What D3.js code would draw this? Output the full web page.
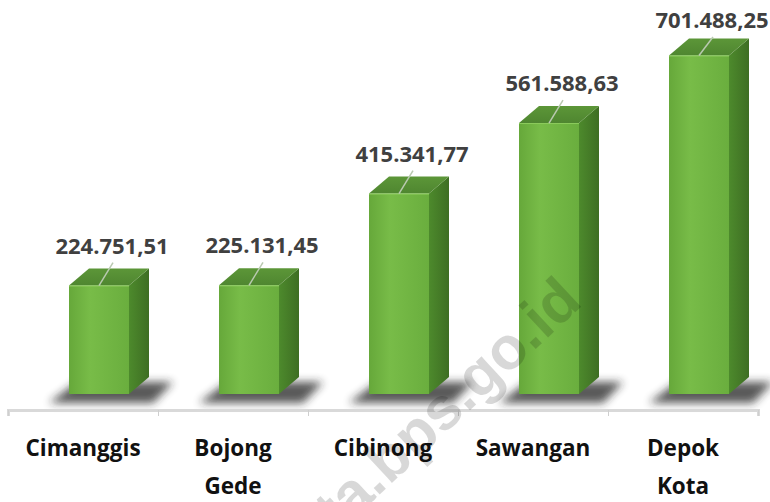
<!DOCTYPE html>
<html>
<head>
<meta charset="utf-8">
<script src="https://cdn.jsdelivr.net/npm/d3@7"></script>
<style>
  body { margin: 0; background: #fff; }
  svg { display: block; }
</style>
</head>
<body>
<div class="chart"></div>
<script>
// data
var categories = ["Cimanggis", "Bojong Gede", "Cibinong", "Sawangan", "Depok Kota"];
var labelLines = [["Cimanggis"], ["Bojong", "Gede"], ["Cibinong"], ["Sawangan"], ["Depok", "Kota"]];
var values = [224751.51, 225131.45, 415341.77, 561588.63, 701488.25];
var valueLabels = ["224.751,51", "225.131,45", "415.341,77", "561.588,63", "701.488,25"];

var svgWidth = 770;
var svgHeight = 502;

var svg = d3.select(".chart")
  .append("svg")
  .attr("width", svgWidth)
  .attr("height", svgHeight);

var defs = svg.append("defs");

// gradients for the 3d faces
function gradient(id, stops, vertical) {
  var g = defs.append("linearGradient").attr("id", id)
    .attr("x1", 0).attr("y1", 0)
    .attr("x2", vertical ? 0 : 1).attr("y2", vertical ? 1 : 0);
  stops.forEach(function(s) {
    g.append("stop").attr("offset", s[0]).attr("stop-color", s[1]);
  });
}
gradient("front", [[0, "#66a83a"], [0.35, "#78bc48"], [1, "#6aae3e"]]);
gradient("side", [[0, "#4d8a2c"], [1, "#3e6e23"]]);
gradient("top", [[0, "#5c9638"], [1, "#4f8630"]], true);

defs.append("filter").attr("id", "blur")
  .attr("x", "-50%").attr("y", "-100%").attr("width", "200%").attr("height", "300%")
  .append("feGaussianBlur").attr("stdDeviation", 4);

// scales
var x = d3.scaleBand()
  .domain(categories)
  .range([8, 758])
  .padding(0);

var y = d3.scaleLinear()
  .domain([0, 800000])
  .range([394, 8]);

var frontOffset = 61, frontWidth = 60, depthX = 20, depthY = 17;
var base = y(0);

var rows = categories.map(function(c, i) {
  return { cat: c, value: values[i], label: valueLabels[i], lines: labelLines[i] };
});

var fl = function(d) { return x(d.cat) + frontOffset; };

// floor shadows
svg.append("g").selectAll("polygon")
  .data(rows)
  .enter()
  .append("polygon")
  .attr("points", function(d) {
    var l = fl(d);
    return [[l - 20, base + 9], [l + 84, base + 9], [l + 104, base - 12], [l + 8, base - 12]].join(" ");
  })
  .attr("fill", "#222")
  .attr("opacity", 0.75)
  .attr("filter", "url(#blur)");

var bars = svg.append("g").selectAll("g")
  .data(rows)
  .enter()
  .append("g");

// side face
bars.append("polygon")
  .attr("points", function(d) {
    var l = fl(d) + frontWidth, t = y(d.value);
    return [[l, t], [l + depthX, t - depthY], [l + depthX, base - depthY], [l, base]].join(" ");
  })
  .attr("fill", "url(#side)");

// top face
bars.append("polygon")
  .attr("points", function(d) {
    var l = fl(d), t = y(d.value);
    return [[l, t], [l + depthX, t - depthY], [l + frontWidth + depthX, t - depthY], [l + frontWidth, t]].join(" ");
  })
  .attr("fill", "url(#top)");

// front face
bars.append("rect")
  .attr("x", fl)
  .attr("y", function(d) { return y(d.value); })
  .attr("width", frontWidth)
  .attr("height", function(d) { return base - y(d.value); })
  .attr("fill", "url(#front)");

bars.append("line")
  .attr("x1", fl)
  .attr("x2", function(d) { return fl(d) + frontWidth; })
  .attr("y1", function(d) { return y(d.value) + 0.5; })
  .attr("y2", function(d) { return y(d.value) + 0.5; })
  .attr("stroke", "#8ccb5c")
  .attr("stroke-width", 1);

// value labels with leader lines
var labelBase = function(d) { return Math.max(28, y(d.value) - 32); };

bars.append("line")
  .attr("x1", function(d) { return fl(d) + 30; })
  .attr("y1", function(d) { return y(d.value); })
  .attr("x2", function(d) { return fl(d) + 44; })
  .attr("y2", function(d) { return labelBase(d) + 9; })
  .attr("stroke", "#b9c9b0")
  .attr("stroke-width", 1.5);

bars.append("text")
  .attr("x", function(d) { return fl(d) + 43; })
  .attr("y", labelBase)
  .attr("text-anchor", "middle")
  .attr("font-family", "Open Sans, sans-serif")
  .attr("font-weight", "bold")
  .attr("font-size", "22px")
  .attr("fill", "#404040")
  .text(function(d) { return d.label; });

// x axis with ticks on the band edges
var edges = d3.scaleLinear().domain([0, categories.length]).range(x.range());
var bottomAxis = d3.axisBottom(edges)
  .ticks(categories.length)
  .tickSize(6)
  .tickFormat("");

var axisG = svg.append("g")
  .attr("transform", "translate(0, 410)")
  .call(bottomAxis);
axisG.select(".domain").attr("stroke", "#d9d9d9").attr("stroke-width", 3);
axisG.selectAll(".tick line").attr("stroke", "#cfcfcf");

// category labels
var catText = svg.append("g").selectAll("text")
  .data(rows)
  .enter()
  .append("text")
  .attr("text-anchor", "middle")
  .attr("font-family", "Open Sans, sans-serif")
  .attr("font-weight", "bold")
  .attr("font-size", "22.5px")
  .attr("fill", "#111");

catText.selectAll("tspan")
  .data(function(d) { return d.lines.map(function(s) { return { s: s, cx: x(d.cat) + x.bandwidth() / 2 }; }); })
  .enter()
  .append("tspan")
  .attr("x", function(d) { return d.cx; })
  .attr("y", function(d, i) { return 456 + i * 38; })
  .text(function(d) { return d.s; });

// watermark
svg.append("text")
  .attr("transform", "translate(584, 304) rotate(-43)")
  .attr("text-anchor", "end")
  .attr("font-family", "Liberation Sans, Arial, sans-serif")
  .attr("font-weight", "bold")
  .attr("font-size", "60px")
  .attr("fill", "#000")
  .attr("opacity", 0.15)
  .text("depokkota.bps.go.id");
</script>
</body>
</html>
